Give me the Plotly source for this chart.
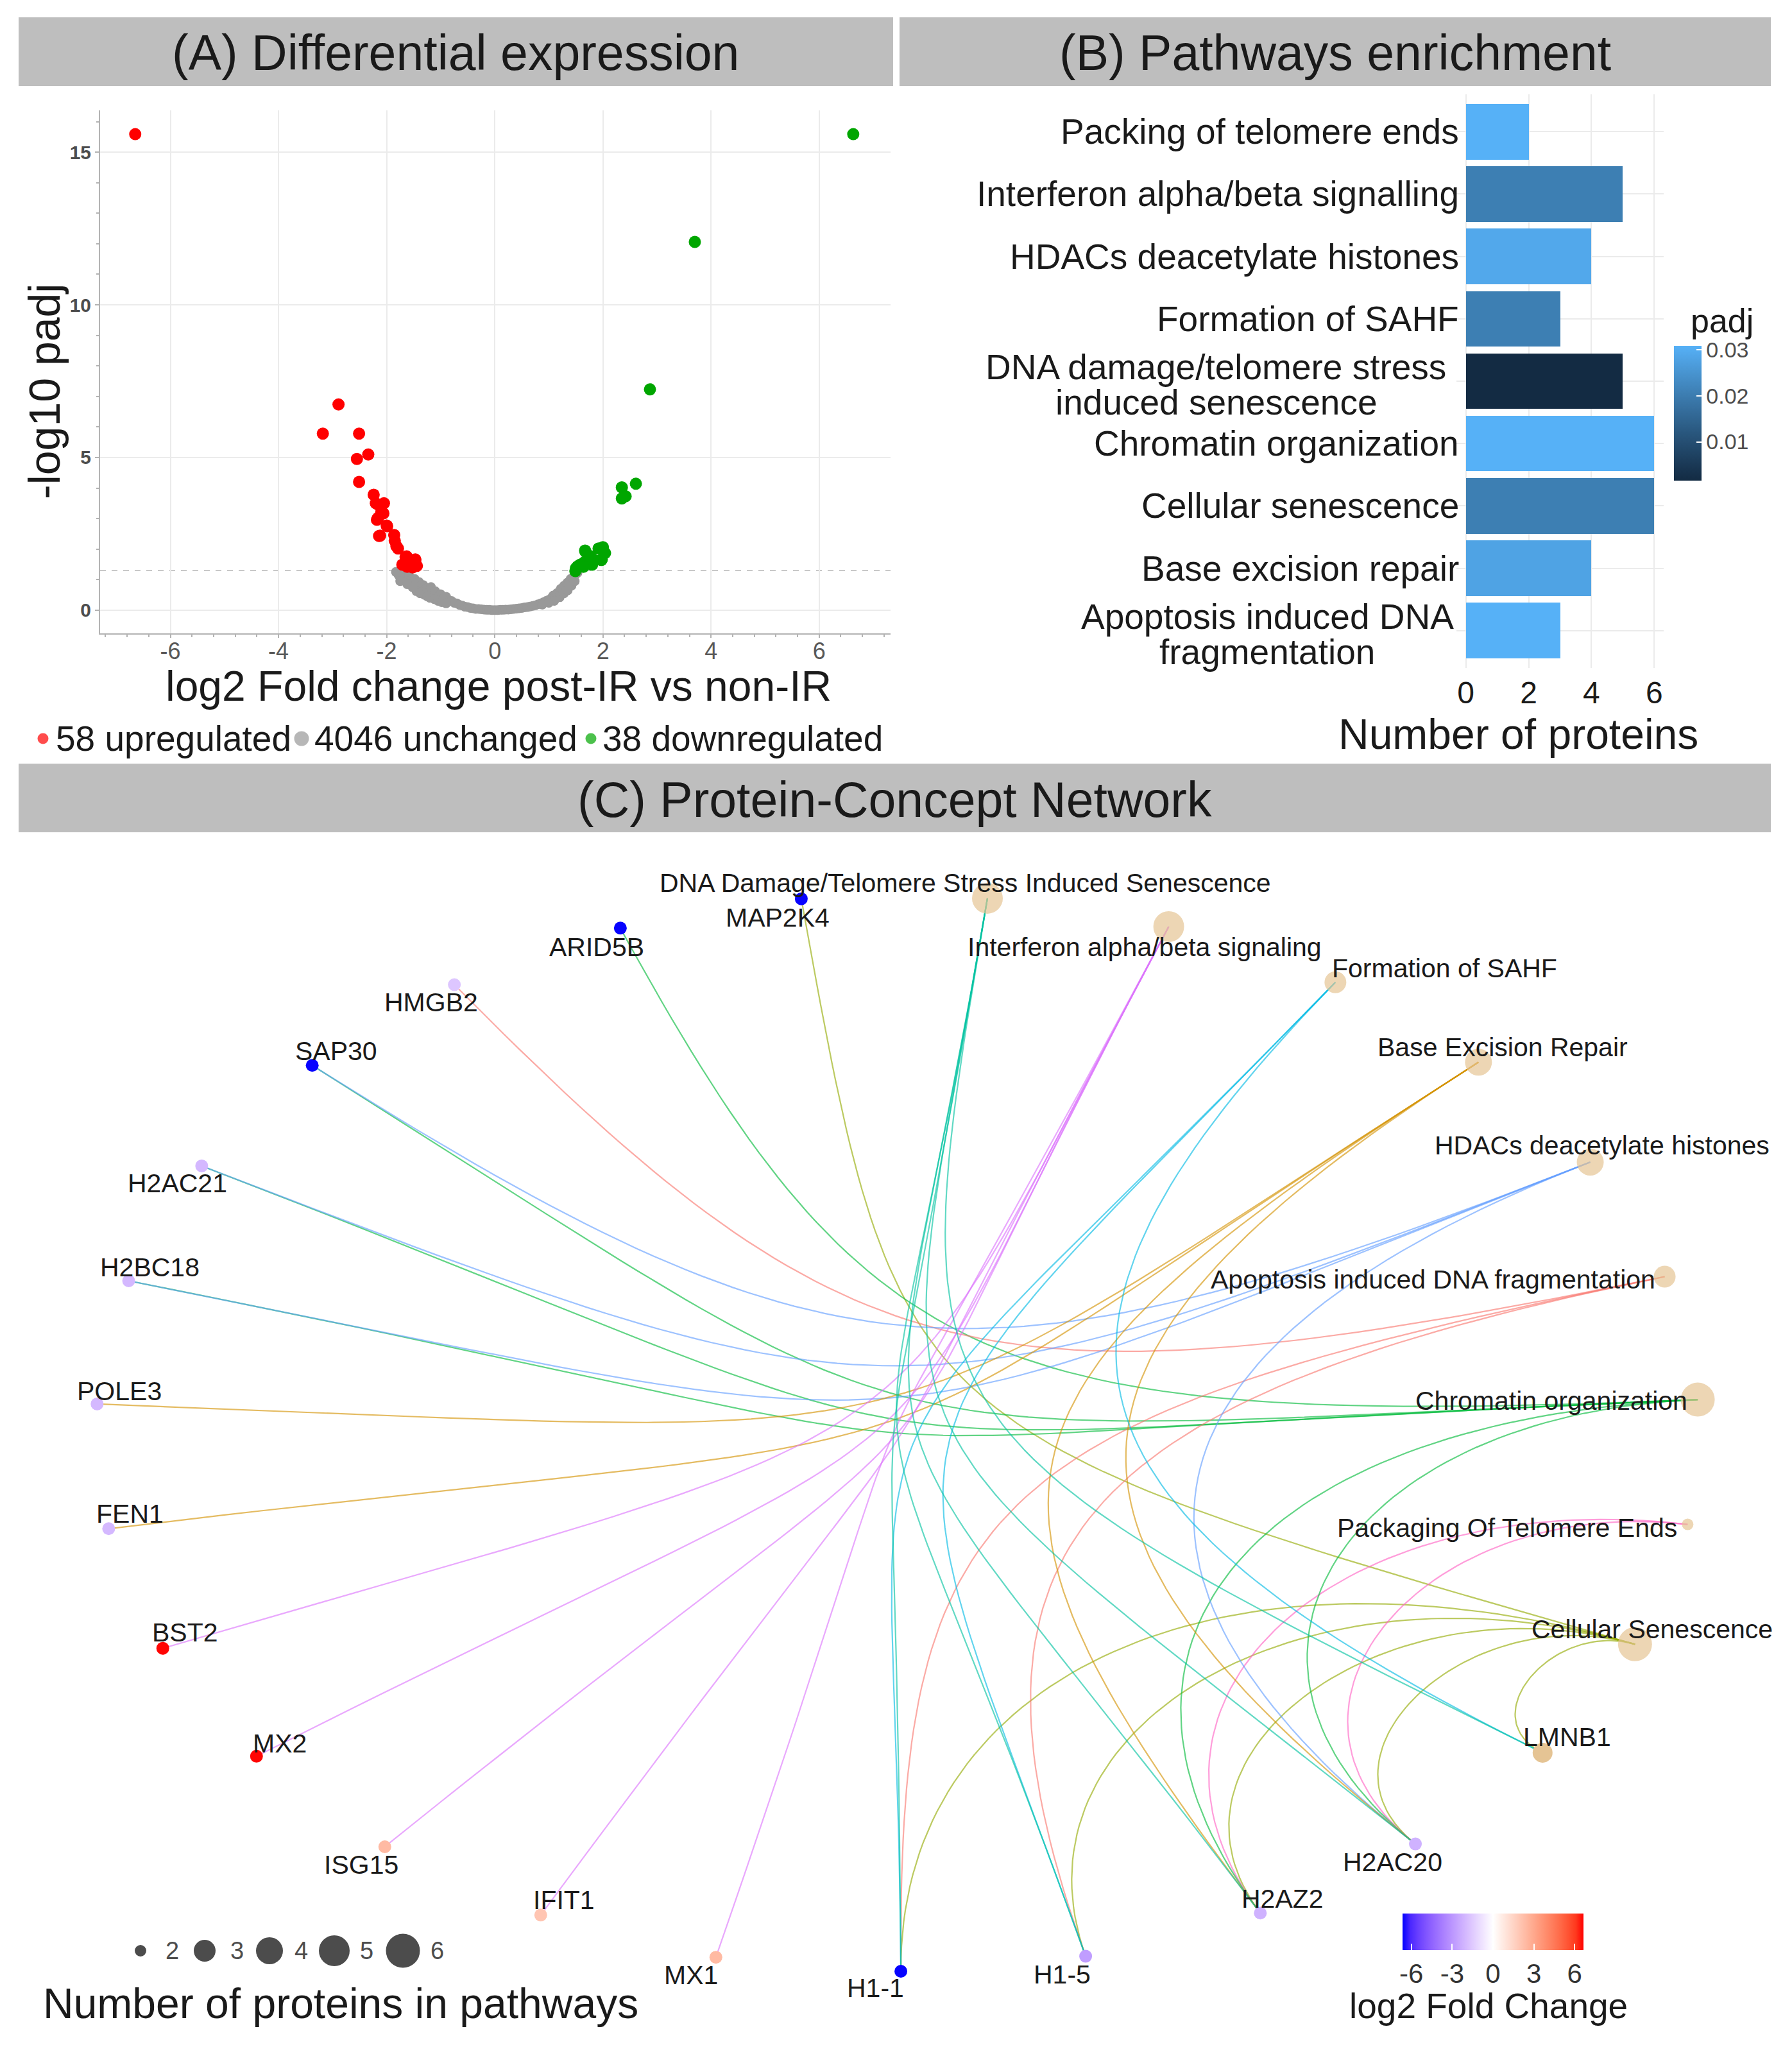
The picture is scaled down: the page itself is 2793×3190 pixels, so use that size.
import math
import plotly.graph_objects as go

# reference canvas and the figure drawn inside the page body (8 px default body margin)
W, H = 2793, 3190
OFF = 8
FW, FH = W - OFF, H - OFF
FONT = "Liberation Sans, Arial, sans-serif"

# ---------------- Panel A: volcano data ----------------
up_x = [-6.65, -2.89, -3.18, -2.51, -2.34, -2.55, -2.51, -2.24, -2.20, -2.05, -2.15, -2.10, -2.06,
        -2.16, -2.18, -2.00, -1.99, -2.14, -2.12, -1.86, -1.85, -1.82, -1.79, -1.65, -1.63, -1.47,
        -1.47, -1.55, -1.71, -1.68, -1.50, -1.44, -1.58, -1.52, -1.62]
up_y = [15.59, 6.74, 5.78, 5.78, 5.10, 4.95, 4.20, 3.78, 3.50, 3.50, 3.45, 3.20, 3.17,
        3.02, 2.96, 2.77, 2.75, 2.43, 2.44, 2.46, 2.27, 2.10, 2.02, 1.74, 1.76, 1.66,
        1.64, 1.49, 1.49, 1.49, 1.49, 1.45, 1.55, 1.40, 1.42]
down_x = [6.63, 3.70, 2.87, 2.61, 2.35, 2.42, 2.35, 1.92, 2.04, 1.68, 1.77, 1.97, 1.85, 1.65,
          1.80, 1.53, 1.58, 1.49, 1.50, 1.64, 2.00, 1.67, 1.98]
down_y = [15.59, 12.06, 7.23, 4.14, 4.02, 3.73, 3.66, 2.02, 1.87, 1.91, 1.77, 1.64, 1.63, 1.56,
          1.49, 1.43, 1.49, 1.28, 1.37, 1.42, 2.06, 1.95, 1.66]
unch_x = [-1.83, -1.78, -1.72, -1.65, -1.58, -1.55, -1.48, -1.45, -1.40, -1.38, -1.32, -1.30, -1.25,
          -1.22, -1.18, -1.15, -1.10, -1.05, -1.00, -0.95, -0.90, -0.85, -0.80, -0.75, -0.70, -0.65,
          -0.60, -0.55, -0.50, -0.45, -0.40, -0.35, -0.30, -0.25, -0.20, -0.15, -0.10, -0.05, 0.00,
          -1.45, -1.38, -1.30, -1.25, -1.20, -1.12, -1.05, -0.98, -0.90, -1.75, -1.62, -1.52,
          0.05, 0.10, 0.15, 0.20, 0.25, 0.30, 0.35, 0.40, 0.45, 0.50, 0.55, 0.60, 0.65, 0.70, 0.75,
          0.80, 0.85, 0.90, 0.95, 1.00, 1.05, 1.08, 1.12, 1.15, 1.20, 1.22, 1.26, 1.28, 1.32, 1.34,
          1.38, 1.40, 1.44, 1.47, 1.50, 1.53, 1.20, 1.28, 1.35, 1.42, 1.10, 1.00, 1.48, 0.88]
unch_y = [1.25, 1.15, 1.22, 1.08, 1.12, 0.98, 1.02, 0.88, 0.92, 0.78, 0.82, 0.66, 0.72,
          0.58, 0.76, 0.52, 0.62, 0.46, 0.52, 0.38, 0.44, 0.32, 0.30, 0.24, 0.22, 0.17,
          0.15, 0.11, 0.10, 0.07, 0.06, 0.04, 0.04, 0.03, 0.02, 0.01, 0.01, 0.00, 0.00,
          0.62, 0.55, 0.50, 0.45, 0.40, 0.36, 0.30, 0.26, 0.22, 0.95, 0.85, 0.75,
          0.00, 0.01, 0.01, 0.02, 0.02, 0.03, 0.04, 0.05, 0.06, 0.07, 0.09, 0.10, 0.12, 0.14, 0.16,
          0.19, 0.22, 0.26, 0.30, 0.34, 0.40, 0.48, 0.46, 0.56, 0.62, 0.70, 0.68, 0.80, 0.78, 0.90,
          0.92, 1.02, 1.05, 1.12, 1.18, 1.22, 0.42, 0.55, 0.65, 0.80, 0.30, 0.24, 0.95, 0.18]
volcano_legend = ["58 upregulated", "4046 unchanged", "38 downregulated"]
volcano_colors = ["#FF0000", "#999999", "#00A600"]
a_xticks = [-6, -4, -2, 0, 2, 4, 6]
a_xticktext = ["-6", "-4", "-2", "0", "2", "4", "6"]
a_yticks = [0, 5, 10, 15]
padj_cutoff = 1.3

# ---------------- Panel B: pathway enrichment ----------------
pathway_labels = ["Packing of telomere ends", "Interferon alpha/beta signalling",
                  "HDACs deacetylate histones", "Formation of SAHF",
                  "DNA damage/telomere stress<br>induced senescence", "Chromatin organization",
                  "Cellular senescence", "Base excision repair",
                  "Apoptosis induced DNA<br>fragmentation"]
pathway_counts = [2, 5, 4, 3, 5, 6, 6, 4, 3]
pathway_padj = [0.0308, 0.0205, 0.0290, 0.0205, 0.0016, 0.0308, 0.0205, 0.0280, 0.0308]
b_xticks = [0, 2, 4, 6]
padj_ticks = [0.01, 0.02, 0.03]

# ---------------- Panel C: protein-concept network ----------------
concepts = ["Cellular Senescence", "Packaging Of Telomere Ends", "Chromatin organization",
            "Apoptosis induced DNA fragmentation", "HDACs deacetylate histones",
            "Base Excision Repair", "Formation of SAHF", "Interferon alpha/beta signaling",
            "DNA Damage/Telomere Stress Induced Senescence"]
concept_sizes = [6, 2, 6, 3, 4, 4, 3, 5, 5]
proteins = ["MAP2K4", "ARID5B", "HMGB2", "SAP30", "H2AC21", "H2BC18", "POLE3", "FEN1", "BST2",
            "MX2", "ISG15", "IFIT1", "MX1", "H1-1", "H1-5", "H2AZ2", "H2AC20", "LMNB1"]
protein_fc = [-6.6, -6.6, -1.6, -6.6, -2.0, -2.0, -2.0, -2.0, 6.6,
              6.6, 2.4, 2.0, 2.4, -6.6, -2.8, -2.2, -2.2, None]
memberships = {
    "Cellular Senescence": ["MAP2K4", "H1-1", "H1-5", "H2AZ2", "H2AC20", "LMNB1"],
    "Packaging Of Telomere Ends": ["H2AZ2", "H2AC20"],
    "Chromatin organization": ["ARID5B", "SAP30", "H2AC21", "H2BC18", "H2AZ2", "H2AC20"],
    "Apoptosis induced DNA fragmentation": ["HMGB2", "H1-1", "H1-5"],
    "HDACs deacetylate histones": ["SAP30", "H2AC21", "H2BC18", "H2AC20"],
    "Base Excision Repair": ["POLE3", "FEN1", "H2AZ2", "H2AC20"],
    "Formation of SAHF": ["H1-1", "H1-5", "LMNB1"],
    "Interferon alpha/beta signaling": ["BST2", "MX2", "ISG15", "IFIT1", "MX1"],
    "DNA Damage/Telomere Stress Induced Senescence": ["H1-1", "H1-5", "H2AZ2", "H2AC20", "LMNB1"],
}
fc_ticks = [-6, -3, 0, 3, 6]
fc_ticktext = ["-6", "-3", "0", "3", "6"]
size_legend_values = [2, 3, 4, 5, 6]

# ---------------- styling helpers ----------------
hue9 = ["#F8766D", "#D39200", "#93AA00", "#00BA38", "#00C19F", "#00B9E3", "#619CFF", "#DB72FB", "#FF61C3"]
edge_colors = {name: hue9[i] for i, name in enumerate(sorted(concepts))}
size_px = {2: 18, 3: 34, 4: 42, 5: 48, 6: 53}
CONCEPT_COL = "#E5C494"


def hex2rgb(h):
    h = h.lstrip('#')
    return [int(h[i:i + 2], 16) for i in (0, 2, 4)]


def rgb2lab(rgb):
    def lin(c):
        c = c / 255.0
        return c / 12.92 if c <= 0.04045 else ((c + 0.055) / 1.055) ** 2.4
    r, g, b = [lin(c) for c in rgb]
    X = 0.4124564 * r + 0.3575761 * g + 0.1804375 * b
    Y = 0.2126729 * r + 0.7151522 * g + 0.0721750 * b
    Z = 0.0193339 * r + 0.1191920 * g + 0.9503041 * b
    def f(t):
        return t ** (1 / 3) if t > (6 / 29) ** 3 else t / (3 * (6 / 29) ** 2) + 4 / 29
    fx, fy, fz = f(X / 0.95047), f(Y / 1.0), f(Z / 1.08883)
    return [116 * fy - 16, 500 * (fx - fy), 200 * (fy - fz)]


def lab2hex(lab):
    L, a, b = lab
    fy = (L + 16) / 116
    fx = fy + a / 500
    fz = fy - b / 200
    def finv(t):
        return t ** 3 if t > 6 / 29 else 3 * (6 / 29) ** 2 * (t - 4 / 29)
    X, Y, Z = 0.95047 * finv(fx), finv(fy), 1.08883 * finv(fz)
    r = 3.2404542 * X - 1.5371385 * Y - 0.4985314 * Z
    g = -0.9692660 * X + 1.8760108 * Y + 0.0415560 * Z
    bb = 0.0556434 * X - 0.2040259 * Y + 1.0572252 * Z
    def enc(c):
        c = max(0.0, min(1.0, c))
        v = 12.92 * c if c <= 0.0031308 else 1.055 * c ** (1 / 2.4) - 0.055
        return max(0, min(255, int(round(v * 255))))
    return "#%02X%02X%02X" % (enc(r), enc(g), enc(bb))


def lab_scale(cols, n=21):
    labs = [rgb2lab(hex2rgb(c)) for c in cols]
    out = []
    seg = len(cols) - 1
    for i in range(n):
        t = i / (n - 1)
        k = min(int(t * seg), seg - 1)
        u = t * seg - k
        lab = [labs[k][j] + (labs[k + 1][j] - labs[k][j]) * u for j in range(3)]
        out.append([t, lab2hex(lab)])
    return out


def rgba(hexc, a):
    r, g, b = hex2rgb(hexc)
    return "rgba(%d,%d,%d,%.2f)" % (r, g, b, a)


padj_scale = lab_scale(["#132B43", "#56B1F7"], 15)
fc_scale = lab_scale(["#0000FF", "#FFFFFF", "#FF0000"], 25)
FC_LIM = 6.65


# reference pixel -> paper fraction of the figure
def pxp(x):
    return (x - OFF) / FW


def pyp(y):
    return 1 - (y - OFF) / FH


# network layout (circular layout stretched to the panel)
CX, CY, RX, RY = 1399.0, 2233.3, 1249.5, 838.7


def ux(p):
    return (p - CX) / RX


def vy(p):
    return (CY - p) / RY


nodes = concepts + proteins
N = len(nodes)
A0 = -23.1
pos = {}
for i, name in enumerate(nodes):
    ang = math.radians(A0 + i * 360.0 / N)
    pos[name] = (math.cos(ang), math.sin(ang))


def arc(p0, p3, k=1.5, n=70):
    a0 = math.atan2(p0[1], p0[0])
    a3 = math.atan2(p3[1], p3[0])
    d = abs(a0 - a3) % (2 * math.pi)
    th = min(d, 2 * math.pi - d)
    f = 1 - k * th / math.pi
    c1 = (p0[0] * f, p0[1] * f)
    c2 = (p3[0] * f, p3[1] * f)
    xs, ys = [], []
    for i in range(n + 1):
        t = i / n
        b0, b1, b2, b3 = (1 - t) ** 3, 3 * (1 - t) ** 2 * t, 3 * (1 - t) * t ** 2, t ** 3
        xs.append(b0 * p0[0] + b1 * c1[0] + b2 * c2[0] + b3 * p3[0])
        ys.append(b0 * p0[1] + b1 * c1[1] + b2 * c2[1] + b3 * p3[1])
    return xs, ys


fig = go.Figure()

# ---- Panel A traces ----
fig.add_trace(go.Scatter(x=unch_x, y=unch_y, mode="markers", xaxis="x", yaxis="y",
                         marker=dict(color=volcano_colors[1], size=15, line=dict(width=0))))
fig.add_trace(go.Scatter(x=up_x, y=up_y, mode="markers", xaxis="x", yaxis="y",
                         marker=dict(color=volcano_colors[0], size=19, line=dict(width=0))))
fig.add_trace(go.Scatter(x=down_x, y=down_y, mode="markers", xaxis="x", yaxis="y",
                         marker=dict(color=volcano_colors[2], size=19, line=dict(width=0))))

# ---- Panel B bars ----
fig.add_trace(go.Bar(y=pathway_labels, x=pathway_counts, orientation="h", width=0.89,
                     xaxis="x2", yaxis="y2",
                     marker=dict(color=pathway_padj, colorscale=padj_scale,
                                 cmin=min(pathway_padj), cmax=max(pathway_padj), line=dict(width=0),
                                 colorbar=dict(x=pxp(2609), xanchor="left", xpad=0,
                                               y=pyp(539), yanchor="top", ypad=0,
                                               len=210, lenmode="pixels", thickness=43,
                                               outlinewidth=0, tickvals=padj_ticks,
                                               ticktext=["%.2f" % v for v in padj_ticks],
                                               ticks="inside", ticklen=8, tickcolor="white",
                                               tickwidth=2,
                                               tickfont=dict(size=34, color="#4D4D4D", family=FONT)))))

# ---- Panel C edges ----
for c in concepts:
    ex, ey = [], []
    for p in memberships[c]:
        xs, ys = arc(pos[c], pos[p])
        ex += xs + [None]
        ey += ys + [None]
    fig.add_trace(go.Scatter(x=ex, y=ey, mode="lines", xaxis="x3", yaxis="y3",
                             line=dict(color=rgba(edge_colors[c], 0.62), width=2.2),
                             hoverinfo="skip"))

# concept nodes
fig.add_trace(go.Scatter(x=[pos[c][0] for c in concepts], y=[pos[c][1] for c in concepts],
                         mode="markers", xaxis="x3", yaxis="y3",
                         marker=dict(color=CONCEPT_COL, size=[size_px[s] for s in concept_sizes],
                                     line=dict(width=0))))
# protein nodes
pf = [(p, v) for p, v in zip(proteins, protein_fc) if v is not None]
pn = [p for p, v in zip(proteins, protein_fc) if v is None]
fig.add_trace(go.Scatter(x=[pos[p][0] for p in pn], y=[pos[p][1] for p in pn], mode="markers",
                         xaxis="x3", yaxis="y3",
                         marker=dict(color=CONCEPT_COL, size=31, line=dict(width=0))))
fig.add_trace(go.Scatter(x=[pos[p][0] for p, v in pf], y=[pos[p][1] for p, v in pf],
                         mode="markers", xaxis="x3", yaxis="y3",
                         marker=dict(color=[v for p, v in pf], colorscale=fc_scale,
                                     cmin=-FC_LIM, cmax=FC_LIM, size=20, line=dict(width=0),
                                     colorbar=dict(orientation="h", x=pxp(2327), xanchor="center",
                                                   xpad=0, y=pyp(2982), yanchor="top", ypad=0,
                                                   len=282, lenmode="pixels", thickness=57,
                                                   outlinewidth=0, tickvals=fc_ticks,
                                                   ticktext=fc_ticktext, ticks="inside",
                                                   ticklen=10, tickcolor="white", tickwidth=2,
                                                   tickfont=dict(size=42, color="#333333",
                                                                 family=FONT)))))

# ---- legend markers (volcano legend and size legend), placed in the overlay axes ----
leg_x = [67, 470, 921]
fig.add_trace(go.Scatter(x=[ux(v) for v in leg_x], y=[vy(1151)] * 3, mode="markers",
                         xaxis="x3", yaxis="y3",
                         marker=dict(color=volcano_colors, size=[17, 23, 17], line=dict(width=0))))
size_leg_x = [219, 319, 420, 521, 628]
fig.add_trace(go.Scatter(x=[ux(v) for v in size_leg_x], y=[vy(3040)] * 5, mode="markers",
                         xaxis="x3", yaxis="y3",
                         marker=dict(color="black", size=[size_px[s] for s in size_legend_values],
                                     line=dict(width=0))))

# ---------------- annotations ----------------
ann = []
shapes = []
HDR = "#BEBEBE"
for (x0, x1, y0, y1, txt, cx) in [(29, 1392, 27, 134, "(A) Differential expression", 710),
                                   (1402, 2760, 27, 134, "(B) Pathways enrichment", 2081),
                                   (29, 2760, 1190, 1297, "(C) Protein-Concept Network", 1394)]:
    shapes.append(dict(type="rect", xref="paper", yref="paper", x0=pxp(x0), x1=pxp(x1),
                       y0=pyp(y1), y1=pyp(y0), fillcolor=HDR, line=dict(width=0), layer="below"))
    ann.append(dict(text=txt, xref="paper", yref="paper", x=pxp(cx), y=pyp((y0 + y1) / 2 + 2),
                    xanchor="center", yanchor="middle", showarrow=False,
                    font=dict(size=77, color="#1A1A1A", family=FONT)))

# threshold line
shapes.append(dict(type="line", xref="x domain", yref="y", x0=0, x1=1, y0=padj_cutoff,
                   y1=padj_cutoff, line=dict(color="#C8C8C8", width=2, dash="dash"), layer="below"))

# panel A axis titles
ann.append(dict(text="-log10 padj", xref="paper", yref="paper", x=pxp(69), y=pyp(610),
                textangle=-90, xanchor="center", yanchor="middle", showarrow=False,
                font=dict(size=68, color="#1A1A1A", family=FONT)))
ann.append(dict(text="log2 Fold change post-IR vs non-IR", xref="paper", yref="paper",
                x=pxp(777), y=pyp(1069), xanchor="center", yanchor="middle", showarrow=False,
                font=dict(size=66, color="#1A1A1A", family=FONT)))
for lx, txt in zip([85, 488, 937], volcano_legend):
    ann.append(dict(text=txt, xref="paper", yref="paper", x=pxp(lx), y=pyp(1151),
                    xanchor="left", yanchor="middle", showarrow=False,
                    font=dict(size=55, color="#1A1A1A", family=FONT)))

# panel B category labels (two-line labels: lines centred on each other, tight spacing)
two_line_centre = {4: 1895, 8: 1975}
for i, lab in enumerate(pathway_labels):
    lines = lab.split("<br>")
    if len(lines) == 1:
        ann.append(dict(text=lab, xref="paper", yref="y2", x=pxp(2276), y=i, xanchor="right",
                        yanchor="middle", showarrow=False,
                        font=dict(size=55, color="#1A1A1A", family=FONT)))
    else:
        for ln, ys in zip(lines, [22, -33]):
            ann.append(dict(text=ln, xref="paper", yref="y2", x=pxp(two_line_centre[i]), y=i,
                            xanchor="center", yanchor="middle", yshift=ys, showarrow=False,
                            font=dict(size=55, color="#1A1A1A", family=FONT)))
ann.append(dict(text="Number of proteins", xref="paper", yref="paper", x=pxp(2366), y=pyp(1144),
                xanchor="center", yanchor="middle", showarrow=False,
                font=dict(size=66, color="#1A1A1A", family=FONT)))
ann.append(dict(text="padj", xref="paper", yref="paper", x=pxp(2633), y=pyp(500),
                xanchor="left", yanchor="middle", showarrow=False,
                font=dict(size=52, color="#1A1A1A", family=FONT)))

# network labels: (xanchor, xshift, shift down)
label_pos = {
    "MAP2K4": ("center", -37, 29), "ARID5B": ("center", -37, 30), "HMGB2": ("center", -36, 28),
    "SAP30": ("center", 37, -22), "H2AC21": ("center", -38, 27), "H2BC18": ("center", 33, -21),
    "POLE3": ("center", 35, -20), "FEN1": ("center", 33, -23), "BST2": ("center", 35, -25),
    "MX2": ("center", 36, -20), "ISG15": ("center", -37, 28), "IFIT1": ("center", 36, -23),
    "MX1": ("center", -39, 28), "H1-1": ("center", -40, 26), "H1-5": ("center", -37, 28),
    "H2AZ2": ("center", 35, -22), "H2AC20": ("center", -36, 28), "LMNB1": ("center", 38, -24),
    "Cellular Senescence": ("center", 27, -23),
    "Packaging Of Telomere Ends": ("right", -14, 5),
    "Chromatin organization": ("right", -14, 2),
    "Apoptosis induced DNA fragmentation": ("right", -13, 5),
    "HDACs deacetylate histones": ("center", 18, -26),
    "Base Excision Repair": ("center", 38, -23),
    "Formation of SAHF": ("left", -7, -22),
    "Interferon alpha/beta signaling": ("center", -38, 32),
    "DNA Damage/Telomere Stress Induced Senescence": ("center", -35, -24),
}
for name in nodes:
    xa, dx, dy = label_pos[name]
    ann.append(dict(text=name, xref="x3", yref="y3", x=pos[name][0], y=pos[name][1],
                    xanchor=xa, yanchor="middle", xshift=dx, yshift=-dy, showarrow=False,
                    font=dict(size=41, color="#1A1A1A", family=FONT)))

# size legend
for lx, v in zip([268, 369, 469, 571, 681], size_legend_values):
    ann.append(dict(text=str(v), xref="paper", yref="paper", x=pxp(lx), y=pyp(3040),
                    xanchor="center", yanchor="middle", showarrow=False,
                    font=dict(size=38, color="#4D4D4D", family=FONT)))
ann.append(dict(text="Number of proteins in pathways", xref="paper", yref="paper",
                x=pxp(531), y=pyp(3122), xanchor="center", yanchor="middle", showarrow=False,
                font=dict(size=66, color="#1A1A1A", family=FONT)))
ann.append(dict(text="log2 Fold Change", xref="paper", yref="paper", x=pxp(2320), y=pyp(3126),
                xanchor="center", yanchor="middle", showarrow=False,
                font=dict(size=55, color="#1A1A1A", family=FONT)))

fig.update_layout(
    width=FW, height=FH, margin=dict(l=0, r=0, t=0, b=0),
    paper_bgcolor="white", plot_bgcolor="rgba(0,0,0,0)", showlegend=False,
    font=dict(family=FONT, color="#1A1A1A"),
    annotations=ann, shapes=shapes, bargap=0,
    xaxis=dict(domain=[pxp(156), pxp(1388)], range=[-7.3, 7.32], anchor="y",
               tickvals=a_xticks, ticktext=a_xticktext, showgrid=True, gridcolor="#EBEBEB",
               gridwidth=2, zeroline=False, showline=True, linecolor="#B3B3B3", linewidth=2,
               ticks="outside", ticklen=5, tickwidth=2, tickcolor="#B3B3B3",
               ticklabelstandoff=-10,
               minor=dict(dtick=0.4, ticks="outside", ticklen=4, tickcolor="#B3B3B3",
                          tickwidth=1.5, showgrid=False),
               tickfont=dict(size=36, color="#595959", family=FONT)),
    yaxis=dict(domain=[pyp(987), pyp(172)], range=[-0.76, 16.37], anchor="x",
               tickvals=a_yticks, showgrid=True, gridcolor="#EBEBEB", gridwidth=2,
               zeroline=False, showline=True, linecolor="#B3B3B3", linewidth=2,
               ticks="outside", ticklen=6, tickwidth=2, tickcolor="#B3B3B3",
               minor=dict(dtick=1, ticks="outside", ticklen=4, tickcolor="#B3B3B3",
                          tickwidth=1.5, showgrid=False),
               tickfont=dict(size=30, color="#4D4D4D", family=FONT, weight="bold")),
    xaxis2=dict(domain=[pxp(2270), pxp(2593)], range=[-0.3, 6.3], anchor="y2",
                tickvals=b_xticks, showgrid=True, gridcolor="#EBEBEB", gridwidth=2,
                zeroline=False, showline=False, ticks="", ticklabelstandoff=6,
                tickfont=dict(size=48, color="#1A1A1A", family=FONT)),
    yaxis2=dict(domain=[pyp(1041), pyp(147)], type="category", categoryorder="array",
                categoryarray=pathway_labels, range=[8.6, -0.6], anchor="x2",
                showgrid=True, gridcolor="#EBEBEB", gridwidth=2, showticklabels=False,
                zeroline=False, showline=False, ticks=""),
    xaxis3=dict(domain=[0, 1], range=[ux(OFF), ux(W)], anchor="y3", visible=False),
    yaxis3=dict(domain=[0, 1], range=[vy(H), vy(OFF)], anchor="x3", visible=False),
)

fig.write_html("out.html")
